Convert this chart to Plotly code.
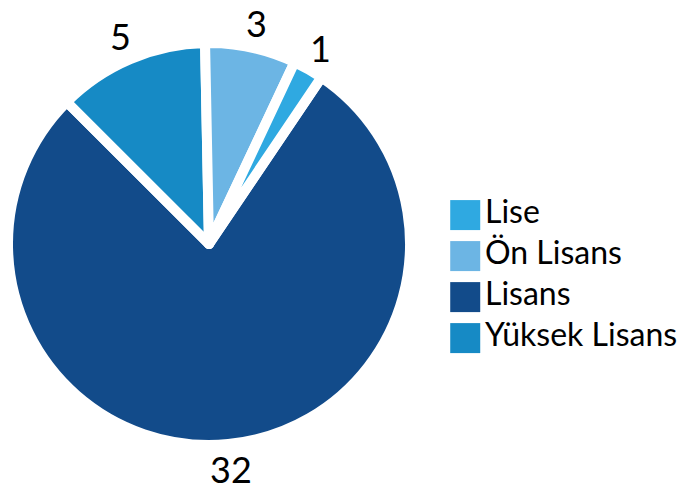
import math
import plotly.graph_objects as go

categories = ["Lise", "Ön Lisans", "Lisans", "Yüksek Lisans"]
values = [1, 3, 32, 5]
colors = ["#2fa9e1", "#6cb5e4", "#124b8a", "#168ac5"]

FONT = "Lato"
W, H = 685, 497

# pie geometry (paper pixels)
CX, CY, R = 201, 236, 201
ROTATION = 34
LABEL_R = 226

fig = go.Figure()

fig.add_trace(go.Pie(
    labels=categories,
    values=values,
    marker=dict(colors=colors, line=dict(color="white", width=10)),
    sort=True,
    direction="clockwise",
    rotation=ROTATION,
    textinfo="none",
    domain=dict(x=[(CX - R) / W, (CX + R) / W],
                y=[(H - CY - R) / H, (H - CY + R) / H]),
    showlegend=False,
    hoverinfo="label+value",
))

# value labels outside each slice, at the slice's middle angle
order = sorted(range(len(values)), key=lambda i: -values[i])
total = sum(values)
angle = ROTATION
annotations = []
for i in order:
    span = values[i] / total * 360
    mid = math.radians(angle + span / 2)
    angle += span
    x = CX + LABEL_R * math.sin(mid)
    y = CY - LABEL_R * math.cos(mid)
    annotations.append(dict(
        x=x / W, y=1 - y / H, xref="paper", yref="paper",
        text=str(values[i]), showarrow=False,
        font=dict(family=FONT, size=36, color="black"),
        xanchor="center", yanchor="middle",
    ))

# legend drawn as square swatches with labels
idx = list(range(len(categories)))
fig.add_trace(go.Scatter(
    x=[0] * len(categories),
    y=idx,
    mode="markers+text",
    marker=dict(symbol="square", size=30, color=colors),
    text=categories,
    textposition="middle right",
    textfont=dict(family=FONT, size=32, color="black"),
    showlegend=False,
    hoverinfo="skip",
    cliponaxis=False,
    xaxis="x", yaxis="y",
))

fig.update_layout(
    width=W, height=H,
    margin=dict(l=0, r=0, t=0, b=0, pad=0, autoexpand=False),
    paper_bgcolor="white",
    plot_bgcolor="rgba(0,0,0,0)",
    font=dict(family=FONT),
    showlegend=False,
    annotations=annotations,
    xaxis=dict(domain=[0.6453, 1], range=[-0.5, 7.5], visible=False, fixedrange=True),
    yaxis=dict(domain=[0, 1], range=[7.07, -5.05], autorange=False, visible=False, fixedrange=True),
)

fig.write_html("out.html")
